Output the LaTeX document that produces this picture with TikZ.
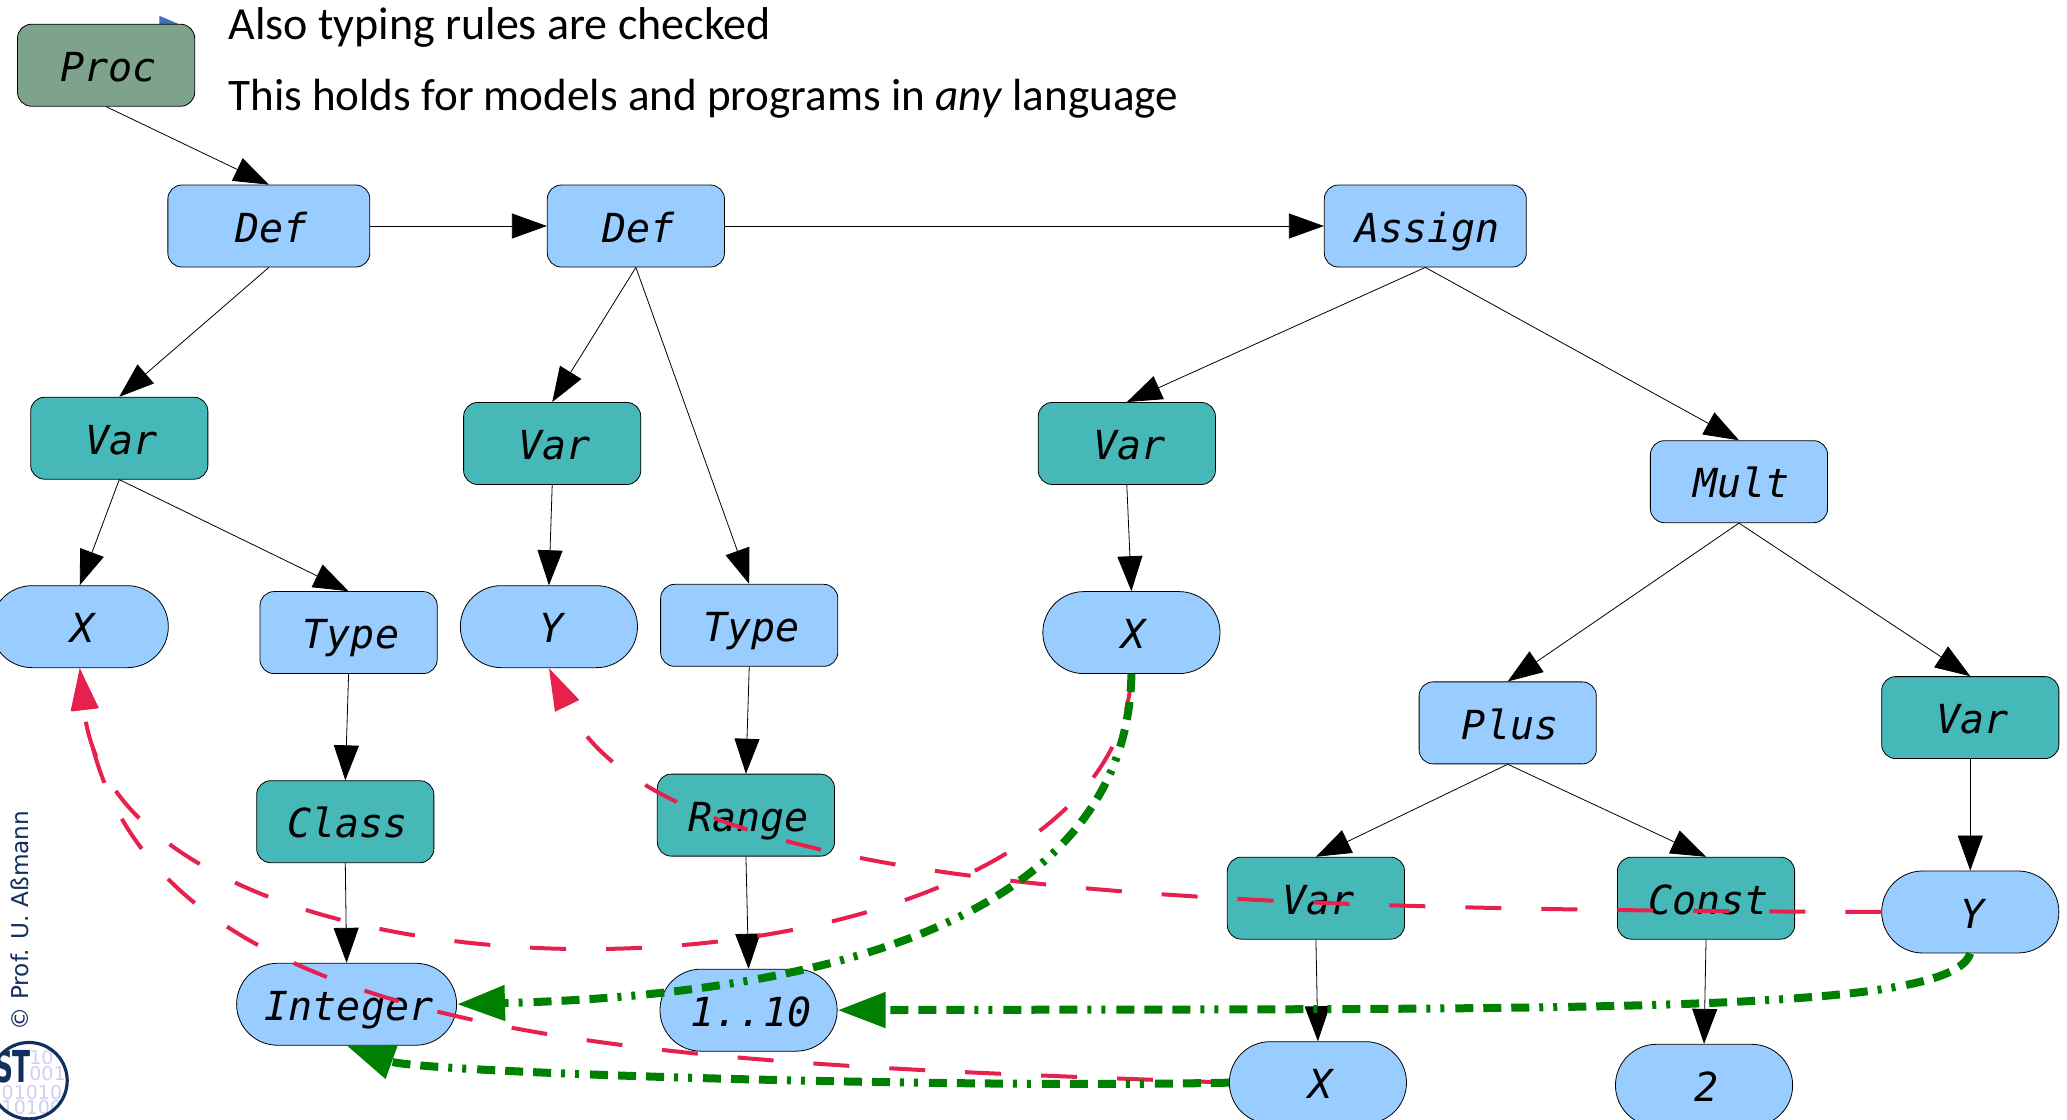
\documentclass[tikz,border=0pt]{standalone}
\usepackage{fontspec}
\usepackage{tikz}
\usetikzlibrary{arrows.meta,shapes.misc}
\setmainfont{Carlito}
\setmonofont{DejaVu Sans Mono}
\newfontfamily\markfont{DejaVu Sans}
\definecolor{leafblue}{HTML}{99CCFF}
\definecolor{varteal}{HTML}{46B8B8}
\definecolor{procgreen}{HTML}{7DA38C}
\definecolor{linkred}{HTML}{E8204E}
\definecolor{linkgreen}{HTML}{008000}
\definecolor{logonavy}{HTML}{12305E}
\definecolor{logodigit}{HTML}{CFCFF2}
\definecolor{bulletblue}{HTML}{3F6FBF}

\tikzset{
  astnode/.style={draw=black,line width=0.4pt,rounded corners=7pt,inner sep=0pt,
    minimum width=88.6pt,minimum height=41pt,text height=16.2pt,text depth=0pt,
    execute at begin node={\hspace{2.4pt}},
    font=\fontsize{20}{22}\ttfamily\itshape},
  bluebox/.style={astnode,fill=leafblue},
  tealbox/.style={astnode,fill=varteal},
  pill/.style={astnode,fill=leafblue,sharp corners,rounded rectangle},
  treeedge/.style={draw=black,line width=0.4pt,-{Triangle[length=17.5pt,width=12.5pt]}},
  redlink/.style={draw=linkred,line width=2pt,dash pattern=on 18pt off 20pt,
    -{Triangle[length=21pt,width=13pt]}},
  greenlink/.style={draw=linkgreen,line width=4pt,
    dash pattern=on 9pt off 5pt on 9pt off 5pt on 9pt off 5.5pt on 2pt off 5pt on 2pt off 5pt,
    -{Triangle[length=24pt,width=17pt]}},
  slidetext/.style={anchor=base west,inner sep=0pt,font=\fontsize{23}{26}\selectfont},
  logodigits/.style={anchor=base west,inner sep=0pt,text=logodigit,font=\markfont\fontsize{9.5}{10}\selectfont},
}

\begin{document}
\begin{tikzpicture}[x=0.659pt,y=-0.659pt]
  \useasboundingbox (0,0) rectangle (1568.4,849.8);

  % slide text and the bullet behind the root
  \fill[bulletblue] (121,12) -- (135,18) -- (121,24) -- cycle;
  \node[slidetext] (lineone) at (173,30) {Also typing rules are checked};
  \node[slidetext,font=\fontsize{22.55}{26}\selectfont] (linetwo) at (173,84) {This holds for models and programs in \emph{any} language};

  % statements
  \node[astnode,fill=procgreen] (proc) at (80.5,49.5) {Proc};
  \node[bluebox,minimum width=101pt] (defa) at (204,171.5) {Def};
  \node[bluebox] (defb) at (482.5,171.5) {Def};
  \node[bluebox,minimum width=101pt] (assign) at (1081.5,171.5) {Assign};

  % second level
  \node[tealbox] (vara) at (90.5,332.5) {Var};
  \node[tealbox] (varb) at (419,336.5) {Var};
  \node[tealbox] (varc) at (855,336.5) {Var};
  \node[bluebox] (mult) at (1319.5,365.5) {Mult};

  % third level
  \node[pill] (xa) at (60.5,475.5) {X};
  \node[bluebox] (typea) at (264.5,480) {Type};
  \node[pill] (ya) at (416.5,475.5) {Y};
  \node[bluebox] (typeb) at (568.5,474.5) {Type};
  \node[pill] (xb) at (858.5,480) {X};
  \node[bluebox] (plus) at (1144,548.5) {Plus};
  \node[tealbox] (vard) at (1495,544.5) {Var};

  % lower levels
  \node[tealbox] (class) at (262,623.5) {Class};
  \node[tealbox] (range) at (566,618.5) {Range};
  \node[tealbox] (vare) at (998.5,681.5) {Var};
  \node[tealbox] (const) at (1294.5,681.5) {Const};
  \node[pill] (yb) at (1495,692) {Y};
  \node[pill,minimum width=110pt] (integer) at (263,762) {Integer};
  \node[pill] (interval) at (568,766.5) {1..10};
  \node[pill] (xc) at (1000,821.5) {X};
  \node[pill] (two) at (1293,823.5) {2};

  % tree edges
  \draw[treeedge] (proc.south) -- (defa.north);
  \draw[treeedge] (defa.east) -- (defb.west);
  \draw[treeedge] (defb.east) -- (assign.west);
  \draw[treeedge] (defa.south) -- (vara.north);
  \draw[treeedge] (defb.south) -- (varb.north);
  \draw[treeedge] (defb.south) -- (typeb.north);
  \draw[treeedge] (assign.south) -- (varc.north);
  \draw[treeedge] (assign.south) -- (mult.north);
  \draw[treeedge] (vara.south) -- (xa.north);
  \draw[treeedge] (vara.south) -- (typea.north);
  \draw[treeedge] (varb.south) -- (ya.north);
  \draw[treeedge] (varc.south) -- (xb.north);
  \draw[treeedge] (mult.south) -- (plus.north);
  \draw[treeedge] (mult.south) -- (vard.north);
  \draw[treeedge] (typea.south) -- (class.north);
  \draw[treeedge] (class.south) -- (integer.north);
  \draw[treeedge] (typeb.south) -- (range.north);
  \draw[treeedge] (range.south) -- (interval.north);
  \draw[treeedge] (plus.south) -- (vare.north);
  \draw[treeedge] (plus.south) -- (const.north);
  \draw[treeedge] (vard.south) -- (yb.north);
  \draw[treeedge] (vare.south) -- (xc.north);
  \draw[treeedge] (const.south) -- (two.north);

  % name links, red
  \draw[redlink] (yb.west) .. controls (900,690) and (500,680) .. (ya.south);
  \draw[redlink] (xb.south) .. controls (845,780) and (90,790) .. (xa.south);
  \draw[redlink] (xc.west) .. controls (500,805) and (100,800) .. (xa.south);

  % type links, green
  \draw[greenlink] (xb.south) .. controls (855,700) and (620,755) .. (integer.east);
  \draw[greenlink] (yb.south) .. controls (1480,770) and (1200,765) .. (interval.east);
  \draw[greenlink] (xc.west) .. controls (720,826) and (320,814) .. (integer.south);

  % copyright and logo
  \node[rotate=90,anchor=base west,inner sep=0pt,text=logonavy,font=\markfont\fontsize{11.6}{13}\selectfont] (copyright) at (21.5,782) {© Prof. U. Aßmann};
  \begin{scope}
    \clip (22,820) circle (29);
    \node[logodigits] (logoa) at (22,808) {10};
    \node[logodigits] (logob) at (22,820) {001};
    \node[logodigits] (logoc) at (1,834) {01010};
    \node[logodigits] (logod) at (1,846) {10100};
    \node[anchor=base east,inner sep=0pt,xscale=0.6,text=logonavy,font=\markfont\bfseries\fontsize{22}{24}\selectfont] (logost) at (23,821) {S\kern-1pt T};
  \end{scope}
  \draw[logonavy,line width=1.6pt] (22,820) circle (29);
\end{tikzpicture}
\end{document}
